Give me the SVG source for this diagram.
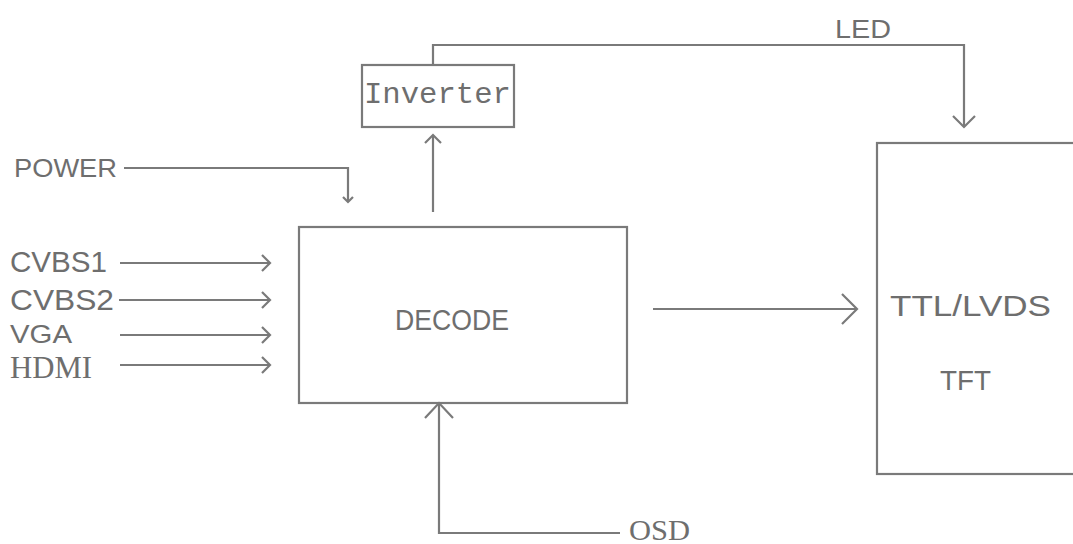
<svg xmlns="http://www.w3.org/2000/svg" width="1073" height="544" viewBox="0 0 1073 544">
<style>
.box{fill:none;stroke:#7a7a7a;stroke-width:2.2}
.ln{fill:none;stroke:#7a7a7a;stroke-width:2.2}
.t{font-family:"Liberation Sans","DejaVu Sans",sans-serif;fill:#6e6e6e}
.m{font-family:"Liberation Mono","DejaVu Sans Mono",monospace;fill:#6e6e6e}
.s{font-family:"Liberation Serif","DejaVu Serif",serif;fill:#6e6e6e}
</style>
<rect width="1073" height="544" fill="#ffffff"/>
<g id="connectors">
<polyline class="ln" points="124,168 348,168 348,202"/>
<polyline class="ln" points="343,197 348,202 353,197"/>
<line class="ln" x1="120" y1="263" x2="270" y2="263"/>
<polyline class="ln" points="262,255 270,263 262,271"/>
<line class="ln" x1="119" y1="300" x2="270" y2="300"/>
<polyline class="ln" points="262,292 270,300 262,308"/>
<line class="ln" x1="120" y1="335" x2="270" y2="335"/>
<polyline class="ln" points="262,327 270,335 262,343"/>
<line class="ln" x1="120" y1="365" x2="270" y2="365"/>
<polyline class="ln" points="262,357 270,365 262,373"/>
<line class="ln" x1="433" y1="212" x2="433" y2="135"/>
<polyline class="ln" points="425,143 433,135 441,143"/>
<polyline class="ln" points="433,65 433,45 964,45 964,127"/>
<polyline class="ln" points="953,116 964,127 975,116"/>
<line class="ln" x1="653" y1="309" x2="857" y2="309"/>
<polyline class="ln" points="842,294 857,309 842,324"/>
<polyline class="ln" points="620,533 439,533 439,403"/>
<polyline class="ln" points="425,418 439,403 453,418"/>
</g>
<g id="power"><text class="t" x="14" y="177" font-size="26" textLength="103" lengthAdjust="spacingAndGlyphs">POWER</text></g>
<g id="cvbs1"><text class="t" x="10" y="272" font-size="30" textLength="97" lengthAdjust="spacingAndGlyphs">CVBS1</text></g>
<g id="cvbs2"><text class="t" x="10" y="310" font-size="30" textLength="104" lengthAdjust="spacingAndGlyphs">CVBS2</text></g>
<g id="vga"><text class="t" x="10" y="343" font-size="26" textLength="62" lengthAdjust="spacingAndGlyphs">VGA</text></g>
<g id="hdmi"><text class="s" x="10" y="378" font-size="32" textLength="82" lengthAdjust="spacingAndGlyphs">HDMI</text></g>
<g id="inverter">
<rect class="box" x="362" y="65" width="152" height="62"/>
<text class="m" x="364" y="103" font-size="29" textLength="147" lengthAdjust="spacingAndGlyphs">Inverter</text>
</g>
<g id="decode">
<rect class="box" x="299" y="227" width="328" height="176"/>
<text class="t" x="395" y="330" font-size="30" textLength="114" lengthAdjust="spacingAndGlyphs">DECODE</text>
</g>
<g id="tft">
<rect class="box" x="877" y="143" width="220" height="331"/>
<text class="t" x="890" y="316" font-size="29" textLength="161" lengthAdjust="spacingAndGlyphs">TTL/LVDS</text>
<text class="t" x="940" y="390" font-size="28" textLength="51" lengthAdjust="spacingAndGlyphs">TFT</text>
</g>
<g id="led"><text class="t" x="835" y="38" font-size="26" textLength="56" lengthAdjust="spacingAndGlyphs">LED</text></g>
<g id="osd"><text class="s" x="629" y="540" font-size="30" textLength="61" lengthAdjust="spacingAndGlyphs">OSD</text></g>
</svg>
